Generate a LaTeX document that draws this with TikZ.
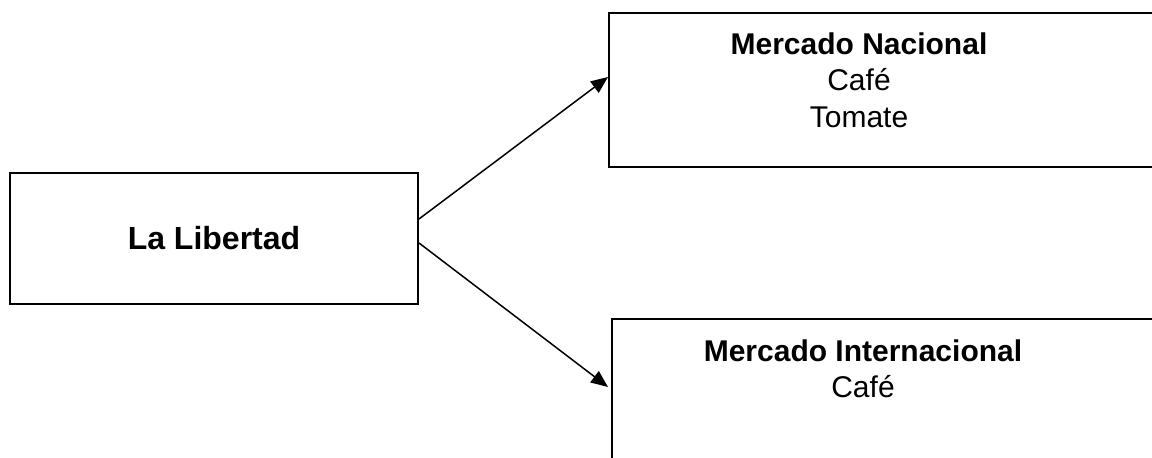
\documentclass[tikz,border=0pt]{standalone}
\usepackage{fontspec}
\setmainfont{Liberation Sans}
\usepackage{tikz}
\usetikzlibrary{positioning,arrows.meta}

\begin{document}
\begin{tikzpicture}[
    x=0.5pt, y=-0.5pt,
    font={\fontsize{15}{18.25}\selectfont},
    base/.style={draw,line width=1pt,rectangle,inner sep=0pt,align=center},
    txt/.style={inner sep=0pt,align=center,anchor=north},
    relation/.style={line width=0.75pt,-{Triangle[length=8.5pt,width=7pt]}},
]

    \clip (0,0) rectangle (1152,458);

    \node[base,minimum width=204pt,minimum height=65.5pt,font={\fontsize{16}{19}\selectfont\bfseries}] at (214,238.5) (libertad) {La Libertad};

    \node[base,minimum width=278pt,minimum height=77pt] at (887,90) (nacional) {};
    \node[txt] at (859,32) (nacionaltxt) {\textbf{Mercado Nacional}\\Café\\Tomate};

    \node[base,minimum width=276.5pt,minimum height=75.5pt] at (888.5,394.5) (internacional) {};
    \node[txt] at (863,339) (internacionaltxt) {\textbf{Mercado Internacional}\\Café};

    \draw[relation]([yshift=9.75pt]libertad.east) to ([yshift=6.5pt]nacional.west);
    \draw[relation]([yshift=-2.25pt]libertad.east) to ([xshift=-1.5pt,yshift=3.75pt]internacional.west);

\end{tikzpicture}
\end{document}
